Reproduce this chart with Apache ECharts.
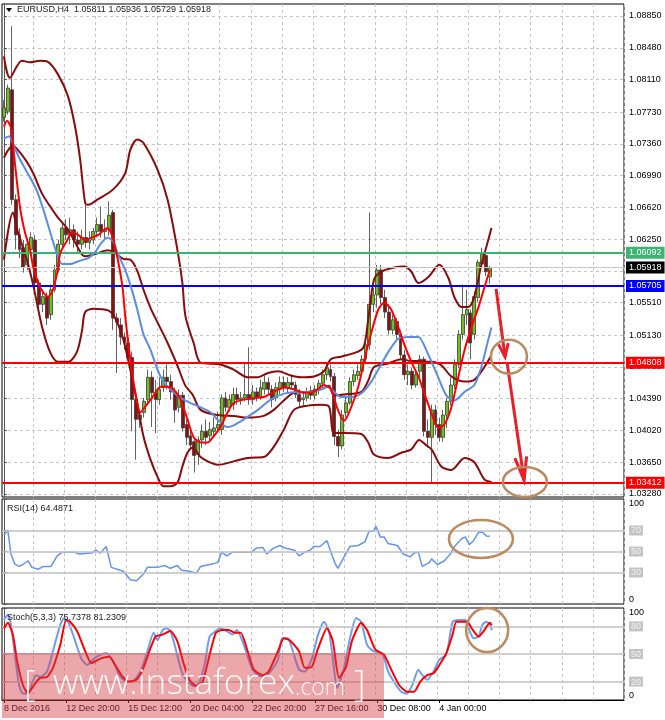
<!DOCTYPE html>
<html>
<head>
<meta charset="utf-8">
<script src="https://cdn.jsdelivr.net/npm/echarts@6.0.0/dist/echarts.min.js"></script>
<style>
html,body{margin:0;padding:0;background:#ffffff;}
#chart{width:665px;height:720px;}
</style>
</head>
<body>
<div id="chart"></div>
<script>
// ---------------- DATA ----------------
const NCAT = 160;
const dateLabels = ['8 Dec 2016','12 Dec 20:00','15 Dec 12:00','20 Dec 04:00','22 Dec 20:00','27 Dec 16:00','30 Dec 08:00','4 Jan 00:00'];
const priceTicks = [1.08850,1.08480,1.08110,1.07730,1.07360,1.06990,1.06620,1.06250,1.05880,1.05510,1.05130,1.04760,1.04390,1.04020,1.03650,1.03280];
const rsiTicks = [0,30,50,70,100];
const stochTicks = [0,20,50,80,100];
const rsiLevels = [70,50,30];
const stochLevels = [80,50,20];
const levelValues = [1.06092,1.05918,1.05705,1.04808,1.03412];
const titleText = 'EURUSD,H4  1.05811 1.05936 1.05729 1.05918';
const rsiTitle = 'RSI(14) 64.4871';
const stochTitle = 'Stoch(5,3,3) 75.7378 81.2309';
const watermarkParts = ['[', 'www.instaforex', '.com', ']'];

// candles: [open, close, low, high]
const candleOHLC = [
[1.0767,1.0778,1.0762,1.0787],[1.0774,1.0801,1.0770,1.0805],[1.0799,1.0671,1.0665,1.0873],[1.0671,1.0630,1.0613,1.0677],
[1.0630,1.0613,1.0603,1.0638],[1.0615,1.0592,1.0586,1.0624],[1.0595,1.0619,1.0589,1.0624],[1.0613,1.0627,1.0607,1.0633],
[1.0624,1.0574,1.0568,1.0630],[1.0574,1.0549,1.0540,1.0578],[1.0549,1.0558,1.0540,1.0566],[1.0558,1.0533,1.0525,1.0563],
[1.0537,1.0566,1.0531,1.0572],[1.0566,1.0589,1.0563,1.0595],[1.0589,1.0619,1.0586,1.0624],[1.0619,1.0638,1.0613,1.0645],
[1.0638,1.0630,1.0624,1.0648],[1.0630,1.0636,1.0619,1.0650],[1.0636,1.0624,1.0615,1.0642],[1.0624,1.0619,1.0609,1.0634],
[1.0619,1.0627,1.0613,1.0636],[1.0627,1.0621,1.0615,1.0665],[1.0621,1.0624,1.0613,1.0634],[1.0624,1.0634,1.0619,1.0638],
[1.0634,1.0642,1.0627,1.0650],[1.0642,1.0634,1.0627,1.0663],[1.0634,1.0636,1.0624,1.0648],[1.0636,1.0653,1.0629,1.0669],
[1.0656,1.0533,1.0519,1.0659],[1.0533,1.0528,1.0469,1.0539],[1.0525,1.0511,1.0502,1.0533],[1.0511,1.0504,1.0496,1.0516],
[1.0504,1.0487,1.0479,1.0510],[1.0487,1.0438,1.0401,1.0494],[1.0438,1.0415,1.0368,1.0444],[1.0415,1.0420,1.0405,1.0426],
[1.0423,1.0436,1.0417,1.0440],[1.0438,1.0464,1.0432,1.0473],[1.0464,1.0446,1.0406,1.0471],[1.0446,1.0438,1.0399,1.0461],
[1.0438,1.0450,1.0432,1.0464],[1.0452,1.0464,1.0447,1.0473],[1.0464,1.0459,1.0450,1.0479],[1.0459,1.0447,1.0438,1.0467],
[1.0447,1.0426,1.0411,1.0452],[1.0429,1.0443,1.0423,1.0450],[1.0443,1.0405,1.0401,1.0447],[1.0409,1.0394,1.0385,1.0415],
[1.0396,1.0385,1.0380,1.0403],[1.0389,1.0373,1.0353,1.0394],[1.0374,1.0391,1.0362,1.0395],[1.0391,1.0401,1.0382,1.0409],
[1.0401,1.0394,1.0385,1.0415],[1.0396,1.0403,1.0391,1.0412],[1.0401,1.0405,1.0394,1.0417],[1.0405,1.0409,1.0401,1.0424],
[1.0403,1.0440,1.0397,1.0444],[1.0440,1.0429,1.0424,1.0447],[1.0429,1.0438,1.0424,1.0444],[1.0432,1.0444,1.0426,1.0452],
[1.0444,1.0438,1.0432,1.0452],[1.0438,1.0440,1.0432,1.0447],[1.0440,1.0444,1.0436,1.0481],[1.0444,1.0438,1.0432,1.0499],
[1.0438,1.0447,1.0432,1.0455],[1.0447,1.0441,1.0436,1.0452],[1.0441,1.0452,1.0438,1.0461],[1.0450,1.0458,1.0444,1.0466],
[1.0458,1.0450,1.0444,1.0464],[1.0450,1.0438,1.0429,1.0455],[1.0440,1.0452,1.0436,1.0458],[1.0450,1.0458,1.0444,1.0465],
[1.0458,1.0452,1.0447,1.0465],[1.0452,1.0458,1.0446,1.0464],[1.0458,1.0455,1.0450,1.0467],[1.0455,1.0444,1.0440,1.0459],
[1.0444,1.0436,1.0430,1.0450],[1.0438,1.0440,1.0431,1.0447],[1.0440,1.0447,1.0436,1.0452],[1.0447,1.0443,1.0438,1.0454],
[1.0443,1.0450,1.0438,1.0455],[1.0450,1.0457,1.0444,1.0461],[1.0457,1.0467,1.0452,1.0473],[1.0467,1.0475,1.0461,1.0482],
[1.0473,1.0465,1.0459,1.0479],[1.0465,1.0395,1.0385,1.0469],[1.0395,1.0384,1.0371,1.0403],[1.0384,1.0420,1.0380,1.0426],
[1.0423,1.0434,1.0417,1.0440],[1.0434,1.0459,1.0432,1.0464],[1.0459,1.0467,1.0454,1.0473],[1.0466,1.0471,1.0461,1.0479],
[1.0471,1.0485,1.0467,1.0490],[1.0485,1.0502,1.0479,1.0508],[1.0502,1.0549,1.0496,1.0656],[1.0549,1.0560,1.0540,1.0568],
[1.0560,1.0589,1.0545,1.0595],[1.0589,1.0557,1.0549,1.0595],[1.0557,1.0540,1.0533,1.0566],[1.0540,1.0519,1.0514,1.0549],
[1.0519,1.0531,1.0514,1.0537],[1.0529,1.0514,1.0508,1.0533],[1.0514,1.0490,1.0485,1.0519],[1.0490,1.0467,1.0461,1.0496],
[1.0467,1.0471,1.0455,1.0479],[1.0471,1.0455,1.0450,1.0475],[1.0455,1.0467,1.0452,1.0473],[1.0471,1.0485,1.0464,1.0490],
[1.0485,1.0401,1.0395,1.0488],[1.0401,1.0394,1.0382,1.0415],[1.0394,1.0426,1.0341,1.0432],[1.0426,1.0409,1.0397,1.0432],
[1.0409,1.0394,1.0389,1.0417],[1.0394,1.0420,1.0389,1.0426],[1.0420,1.0436,1.0405,1.0440],[1.0436,1.0455,1.0431,1.0464],
[1.0455,1.0479,1.0450,1.0485],[1.0479,1.0514,1.0475,1.0519],[1.0514,1.0537,1.0508,1.0572],[1.0537,1.0543,1.0525,1.0566],
[1.0539,1.0504,1.0485,1.0543],[1.0514,1.0558,1.0508,1.0564],[1.0557,1.0598,1.0552,1.0601],[1.0596,1.0607,1.0592,1.0615],
[1.0606,1.0587,1.0582,1.0613],[1.05811,1.05918,1.05729,1.05936]
];

// Bollinger bands [barIndex, price]
const bbUpper = [[0,1.0838],[1.5,1.0813],[4.6,1.0833],[6.7,1.0831],[9.3,1.0833],[11.1,1.0832],[13.9,1.0817],[16.5,1.0791],[18.3,1.0756],[19.6,1.0718],[20.9,1.0667],[21.7,1.0665],[24,1.0671],[28.1,1.0683],[31.2,1.0702],[32.5,1.0729],[34.3,1.0741],[35.9,1.0737],[39.5,1.0706],[42.1,1.0671],[44.6,1.0613],[45.9,1.0574],[46.7,1.0535],[48.8,1.0504],[50.6,1.0481],[55.7,1.0479],[59.1,1.0473],[62.7,1.0464],[65.3,1.0464],[67.9,1.0469],[70.5,1.0471],[73.8,1.0466],[76.4,1.0464],[79.7,1.0465],[82.3,1.0471],[84.1,1.0485],[86.7,1.0488],[91.1,1.0494],[92.6,1.0500],[93.7,1.0531],[95.2,1.0578],[97,1.0587],[100.4,1.0592],[103,1.0593],[104.8,1.0587],[106.6,1.0574],[109.2,1.0581],[112,1.0595],[114.3,1.0580],[115.9,1.0557],[117.7,1.0546],[119.5,1.0546],[121,1.0558],[122.8,1.0595],[124.1,1.0616],[125.4,1.0638]];
const bbMiddle = [[0,1.0720],[2.3,1.0734],[4.1,1.0726],[5.9,1.0715],[7.5,1.0702],[9.8,1.0678],[11.9,1.0663],[13.9,1.0650],[16.5,1.0636],[18.8,1.0617],[20.1,1.0607],[20.9,1.0605],[23,1.0607],[26.8,1.0612],[28.6,1.0609],[30.7,1.0602],[32.5,1.0601],[34.3,1.0588],[35.9,1.0566],[37.7,1.0545],[39.5,1.0528],[42.1,1.0504],[44.6,1.0478],[46.7,1.0454],[48.5,1.0444],[50.6,1.0426],[55,1.0420],[59.1,1.0419],[62.7,1.0417],[66.8,1.0419],[69.4,1.0426],[72,1.0437],[74.6,1.0446],[78.2,1.0447],[81.5,1.0450],[83.6,1.0454],[84.9,1.0443],[87.5,1.0444],[91.9,1.0447],[93.7,1.0460],[95.2,1.0476],[98.8,1.0480],[102.2,1.0485],[104.8,1.0483],[106.8,1.0483],[108.6,1.0482],[110,1.0482],[112.5,1.0478],[115.1,1.0465],[118.5,1.0459],[121,1.0461],[123.6,1.0476],[125.4,1.0490]];
const bbLower = [[0,1.0601],[2.3,1.0656],[3.6,1.0633],[5.9,1.0601],[7.5,1.0572],[9.8,1.0523],[11.9,1.0493],[13.9,1.0482],[16.5,1.0482],[18.8,1.0494],[20.1,1.0519],[20.9,1.0540],[23,1.0544],[26.8,1.0542],[28.6,1.0533],[30.7,1.0508],[32.5,1.0473],[34.3,1.0434],[35.9,1.0395],[37.7,1.0368],[39.5,1.0348],[41,1.0337],[42.8,1.0337],[44.6,1.0341],[45.9,1.0360],[47.2,1.0376],[48.5,1.0382],[50.6,1.0371],[52.4,1.0366],[55,1.0362],[59.1,1.0366],[62.7,1.0370],[66.8,1.0371],[69.4,1.0383],[72,1.0403],[74.6,1.0426],[78.2,1.0431],[81.5,1.0432],[83.6,1.0430],[84.9,1.0399],[87.5,1.0399],[91.9,1.0398],[93.7,1.0388],[95.2,1.0374],[98.8,1.0370],[102.2,1.0376],[104.8,1.0380],[106.8,1.0391],[108.6,1.0385],[110,1.0380],[112.5,1.0360],[115.1,1.0356],[118.5,1.0370],[121,1.0365],[123.6,1.0345],[125.4,1.0342]];

// moving averages [barIndex, price]
const maFast = [[0,1.0756],[0.8,1.0763],[1.8,1.0755],[2.8,1.0714],[4.1,1.0663],[5.4,1.0633],[6.7,1.0613],[7.5,1.0593],[8.8,1.0574],[10.1,1.0563],[11.4,1.0558],[12.6,1.0566],[13.7,1.0586],[14.5,1.0609],[16.3,1.0624],[17.5,1.0633],[19.1,1.0630],[20.9,1.0624],[22.7,1.0627],[24.3,1.0630],[26.6,1.0638],[27.9,1.0628],[29.2,1.0603],[30.5,1.0569],[31.2,1.0535],[32.5,1.0485],[33.8,1.0446],[35.1,1.0423],[36.4,1.0430],[38.2,1.0441],[40.3,1.0453],[42.1,1.0453],[43.6,1.0450],[45.4,1.0438],[47.2,1.0415],[48.8,1.0394],[50.6,1.0388],[52.4,1.0388],[53.9,1.0395],[55.7,1.0406],[57.5,1.0423],[59.1,1.0434],[61.7,1.0438],[64.3,1.0440],[66.8,1.0441],[69.4,1.0447],[72,1.0452],[74.6,1.0450],[77.2,1.0446],[79.7,1.0447],[82.3,1.0455],[84.1,1.0450],[85.9,1.0426],[87.5,1.0413],[89.3,1.0429],[91.1,1.0452],[92.6,1.0482],[94.5,1.0516],[96.3,1.0543],[97.8,1.0551],[99.6,1.0543],[101.4,1.0523],[103,1.0502],[104.8,1.0482],[106.6,1.0465],[108.1,1.0446],[109.9,1.0423],[111.7,1.0405],[113.3,1.0409],[115.1,1.0429],[116.9,1.0465],[118.5,1.0496],[120.3,1.0523],[122.1,1.0546],[123.6,1.0569],[125,1.0589]];
const maSlow = [[0,1.0742],[1.3,1.0745],[2.6,1.0733],[4.1,1.0718],[6.7,1.0697],[8.5,1.0681],[10.1,1.0660],[11.9,1.0633],[13.7,1.0607],[15,1.0596],[17,1.0596],[19.6,1.0600],[21.7,1.0603],[23.5,1.0610],[24.8,1.0619],[26.6,1.0627],[28.1,1.0622],[29.2,1.0609],[31.2,1.0589],[32.5,1.0572],[34.3,1.0543],[35.9,1.0514],[37.7,1.0496],[39.5,1.0473],[41,1.0459],[42.8,1.0450],[45.4,1.0440],[48,1.0434],[50.6,1.0429],[53.2,1.0423],[55.7,1.0411],[57.5,1.0406],[59.1,1.0408],[61.7,1.0415],[65.3,1.0426],[68.6,1.0438],[72,1.0445],[75.6,1.0447],[79,1.0447],[81.5,1.0450],[83.4,1.0453],[84.9,1.0447],[86.7,1.0441],[89.3,1.0441],[91.1,1.0443],[92.6,1.0448],[94.5,1.0459],[96.3,1.0473],[98.8,1.0493],[101.4,1.0509],[104,1.0511],[106.6,1.0511],[109.2,1.0490],[111.7,1.0464],[113.8,1.0443],[115.9,1.0437],[118.5,1.0447],[121,1.0455],[122.8,1.0476],[124.6,1.0508],[125.4,1.0522]];

// RSI(14) [barIndex, value]
const rsi14 = [[0,65.7],[1,70.2],[1.8,47.6],[2.8,38.0],[3.9,35.8],[4.9,37.6],[6.2,41.2],[7.2,34.9],[8.8,33.1],[10.1,35.8],[12.1,35.8],[13.7,45.8],[15,49.4],[18.1,49.4],[19.4,47.6],[22.5,48.5],[23.7,51.2],[24.8,48.5],[26.3,54.8],[27.6,34.9],[30.7,31.2],[32.5,23.1],[34.1,22.2],[35.9,28.5],[36.9,34.9],[39.5,34.9],[41.3,36.7],[42.8,34.0],[44.6,36.7],[45.7,32.2],[47.7,31.2],[49.5,29.4],[50.6,35.8],[52.9,37.6],[55,39.4],[56,49.4],[57.3,45.8],[58.8,49.4],[63.7,49.4],[64.8,53.0],[66.6,53.9],[67.6,47.6],[69.2,53.0],[71,55.7],[72.5,53.0],[74.8,51.2],[75.9,45.8],[77.4,49.4],[78.7,51.2],[79.7,54.8],[81.3,54.8],[83.1,60.3],[84.1,49.4],[85.2,38.5],[85.9,34.0],[86.7,39.4],[89,54.8],[91.1,55.7],[92.9,59.4],[93.9,69.3],[95,69.3],[95.7,73.9],[96.8,63.9],[97.8,63.9],[98.8,57.6],[101.2,55.7],[102.7,47.6],[104.5,44.9],[105.5,48.5],[106.6,49.4],[107.6,35.8],[109.4,39.4],[110,43.0],[111.5,37.6],[113.3,41.2],[114.8,47.6],[115.9,54.8],[117.7,62.1],[118.7,63.9],[119.7,56.6],[120.8,60.3],[122.1,68.4],[123.1,68.4],[124.1,64.8],[125,64.5]];

// Stochastic(5,3,3) [barIndex, value]
const stochK = [[0,87],[1,93],[1.8,82],[2.8,49],[3.9,16],[4.9,7],[6.2,7],[7.2,18],[8.3,27],[9.3,25],[11.1,31],[12.6,53],[14.5,82],[15.5,89],[16.5,85],[18.1,67],[19.9,45],[21.4,38],[23.2,45],[24.8,49],[26.3,51],[28.1,42],[29.7,27],[31.5,20],[33,20],[35.1,31],[36.9,53],[38.5,73],[39.5,65],[40.8,76],[41.8,78],[42.8,75],[43.9,60],[45.7,31],[47.2,20],[49,15],[50.1,18],[51.6,38],[52.9,69],[54.5,75],[55.5,78],[57.3,75],[58.8,71],[59.9,76],[61.7,60],[63.7,35],[65.3,27],[67.1,25],[68.6,31],[70.5,44],[71.5,67],[73,67],[74.1,56],[75.9,33],[77.4,31],[79.2,45],[80.8,71],[82.3,85],[83.6,75],[84.6,45],[85.7,13],[87.5,35],[89,67],[90.6,89],[91.9,85],[93.4,60],[95,53],[97.3,51],[98.8,31],[100.6,18],[102.2,9],[103.7,7],[105,16],[106.6,33],[107.6,27],[108.9,22],[110.5,31],[112,44],[113.8,49],[115.4,85],[116.9,87],[118.7,87],[119.7,76],[120.8,67],[122.1,69],[123.1,82],[124.1,85],[125,82],[125.5,75.7]];
const stochD = [[0,78],[1,84],[2.3,71],[3.4,42],[4.9,16],[6.2,7],[7.7,16],[9.3,24],[11.1,25],[12.6,35],[14.5,60],[16,87],[17,85],[18.8,75],[20.9,53],[22.5,40],[24.8,45],[27.1,47],[28.6,38],[30.2,27],[32,20],[34.1,22],[35.9,35],[37.4,53],[39,69],[40.8,71],[42.8,75],[44.6,64],[46.2,40],[47.7,22],[49.5,15],[51.1,20],[52.9,49],[54.5,73],[56,76],[57.8,76],[59.4,73],[60.9,73],[62.7,53],[64.3,33],[66.6,27],[68.1,31],[70.5,53],[72,67],[73.5,65],[75.9,53],[77.4,35],[79.2,36],[80.8,56],[83.1,78],[84.6,64],[86.2,24],[88,36],[89.5,64],[91.9,84],[93.4,76],[95.5,55],[97.8,49],[99.4,35],[101.7,16],[103.7,9],[105.5,9],[107.1,20],[108.9,27],[110.5,29],[112,38],[113.8,51],[115.4,71],[116.4,85],[119.2,85],[120.3,78],[122.1,69],[123.6,76],[125,84],[125.5,81.2]];

// annotations in data coordinates
const arrowPoints = [ [[126.6,1.0567],[128.9,1.0488]], [[129.4,1.0482],[133.8,1.0344]] ];
const circleMain = [[129.9,1.0488],[134,1.0342]];
const circleRsi = [122.7,62];
const circleStoch = [124.3,76];

// ---------------- STYLE / LAYOUT ----------------
const FONT = '"Liberation Sans", Arial, sans-serif';
const GL = 2, GR = 41;
const PRICE_MIN = 1.03245, PRICE_MAX = 1.08990;
const levelColors = ['#3cb371','#000000','#0000ff','#ff0000','#ff0000'];
const levelLineColors = ['#3cb371','#c8c8c8','#0000ff','#ff0000','#ff0000'];
const levelLineWidths = [2,1,2,2,2];
const BAND = '#8b0a0a', RED = '#ff0000', BLUE = '#5a8de6', BROWN = '#bb8a5e', ARROW = '#e8202a';
const GRIDC = '#c6c6c6';

const chart = echarts.init(document.getElementById('chart'));
const cats = [];
for (let i = 0; i < NCAT; i++) cats.push(String(i));

function catAxis(gridIndex, withLabels) {
  const lblInt = (i) => i % 16 === 0 && i / 16 < dateLabels.length;
  return {
    type: 'category', gridIndex: gridIndex, data: cats, boundaryGap: true,
    axisLine: {show: withLabels, lineStyle: {color: '#000'}},
    axisTick: withLabels ? {show: true, interval: lblInt, alignWithLabel: true, length: 3, lineStyle: {color: '#000'}} : {show: false},
    axisLabel: withLabels ? {show: true, interval: lblInt, formatter: (v, idx) => dateLabels[Math.round(idx / 16)] || '', align: 'left', fontSize: 9, color: '#000', fontFamily: FONT, margin: 4} : {show: false},
    splitLine: {show: true, interval: (i) => i > 0 && i % 8 === 0, lineStyle: {color: GRIDC, type: [3, 3], width: 1}}
  };
}
function valAxis(gridIndex) {
  return {type: 'value', gridIndex: gridIndex, min: -0.5, max: NCAT - 0.5, show: false};
}
const levelFmt = (v) => (v === 0 || v === 100) ? '{b|' + v + '}' : '{g|' + v + '}';
const levelRich = {
  b: {color: '#000', fontSize: 9, fontFamily: FONT},
  g: {color: '#f2f2f2', fontSize: 9, fontFamily: FONT, backgroundColor: '#c4c4c4', padding: [1, 2, 0, 2]}
};
function oscAxis(gridIndex, ticks) {
  return {
    type: 'value', gridIndex: gridIndex, position: 'right', min: 0, max: 100,
    axisLine: {show: true, lineStyle: {color: '#555'}},
    axisTick: {show: true, customValues: ticks, length: 3, lineStyle: {color: '#555'}},
    axisLabel: {customValues: ticks, formatter: levelFmt, rich: levelRich, margin: 5,
      verticalAlignMaxLabel: 'top', verticalAlignMinLabel: 'bottom'},
    splitLine: {show: false}
  };
}
function lineSeries(data, xi, yi, color, width, smooth, z) {
  return {type: 'line', data: data, xAxisIndex: xi, yAxisIndex: yi, showSymbol: false, symbol: 'none',
    smooth: smooth, lineStyle: {color: color, width: width}, z: z, silent: true};
}
function levelMark(levels) {
  return {silent: true, symbol: ['none', 'none'], label: {show: false},
    lineStyle: {color: '#c0c0c0', width: 1.5, type: 'solid'},
    data: levels.map(v => ({yAxis: v}))};
}

const option = {
  animation: false,
  backgroundColor: '#ffffff',
  grid: [
    {left: GL, right: GR, top: 4, height: 493, show: true, borderColor: '#000', borderWidth: 1, backgroundColor: 'transparent', outerBoundsMode: 'none'},
    {left: GL, right: GR, top: 499, height: 105, show: true, borderColor: '#000', borderWidth: 1, outerBoundsMode: 'none'},
    {left: GL, right: GR, top: 608, height: 92, show: true, borderColor: '#000', borderWidth: 1, outerBoundsMode: 'none'}
  ],
  xAxis: [catAxis(0, false), valAxis(0), catAxis(1, false), valAxis(1), catAxis(2, true), valAxis(2)],
  yAxis: [
    {type: 'value', gridIndex: 0, position: 'right', min: PRICE_MIN, max: PRICE_MAX,
      axisLine: {show: true, lineStyle: {color: '#555'}},
      axisTick: {show: true, customValues: priceTicks, length: 3, lineStyle: {color: '#555'}},
      axisLabel: {customValues: priceTicks, formatter: (v) => v.toFixed(5), fontSize: 9, color: '#000', fontFamily: FONT, margin: 5},
      splitLine: {show: true, lineStyle: {color: GRIDC, type: [3, 3], width: 1}}},
    oscAxis(1, rsiTicks),
    oscAxis(2, stochTicks)
  ],
  series: [
    {type: 'candlestick', xAxisIndex: 0, yAxisIndex: 0, data: candleOHLC, barWidth: 3.4, z: 2,
      itemStyle: {color: '#6cc21a', color0: '#8b0f0f', borderColor: '#3c3c3c', borderColor0: '#3c3c3c', borderWidth: 0.8},
      markLine: {silent: true, symbol: ['none', 'none'], precision: 5,
        label: {show: true, position: 'end', formatter: (p) => Number(p.value).toFixed(5), color: '#fff', fontSize: 9, fontFamily: FONT, padding: [2, 3, 1, 3], distance: 2},
        data: levelValues.map((v, k) => ({yAxis: v,
          lineStyle: {color: levelLineColors[k], width: levelLineWidths[k], type: 'solid'},
          label: {backgroundColor: levelColors[k]}}))}},
    lineSeries(bbUpper, 1, 0, BAND, 2, 0.3, 4),
    lineSeries(bbMiddle, 1, 0, BAND, 2, 0.3, 4),
    lineSeries(bbLower, 1, 0, BAND, 2, 0.3, 4),
    lineSeries(maSlow, 1, 0, BLUE, 2, 0.25, 5),
    lineSeries(maFast, 1, 0, RED, 2, 0.25, 6),
    Object.assign(lineSeries(rsi14, 3, 1, '#6495ed', 1.5, false, 4), {markLine: levelMark(rsiLevels)}),
    Object.assign(lineSeries(stochK, 5, 2, '#6f9ded', 2, 0.2, 4), {markLine: levelMark(stochLevels)}),
    lineSeries(stochD, 5, 2, RED, 2, 0.2, 5)
  ]
};
chart.setOption(option);

// ---------------- ANNOTATIONS ----------------
const toPx = (xi, yi, pt) => chart.convertToPixel({xAxisIndex: xi, yAxisIndex: yi}, pt);
function arrowEls(p0, p1, len, ang) {
  const a = Math.atan2(p1[1] - p0[1], p1[0] - p0[0]);
  const b1 = [p1[0] - len * Math.cos(a - ang), p1[1] - len * Math.sin(a - ang)];
  const b2 = [p1[0] - len * Math.cos(a + ang), p1[1] - len * Math.sin(a + ang)];
  return [
    {type: 'line', z: 50, shape: {x1: p0[0], y1: p0[1], x2: p1[0], y2: p1[1]}, style: {stroke: ARROW, lineWidth: 3}},
    {type: 'polyline', z: 50, shape: {points: [b1, p1, b2]}, style: {stroke: ARROW, lineWidth: 3, fill: null}}
  ];
}
const g = [];
g.push({type: 'polygon', z: 50, shape: {points: [[6, 8], [12, 8], [9, 12]]}, style: {fill: '#000'}});
g.push({type: 'text', z: 50, x: 17, y: 10, style: {text: titleText, font: '9px ' + FONT, fill: '#222', verticalAlign: 'middle'}});
g.push({type: 'text', z: 50, x: 7, y: 509, style: {text: rsiTitle, font: '9px ' + FONT, fill: '#222', verticalAlign: 'middle'}});
g.push({type: 'text', z: 50, x: 7, y: 618, style: {text: stochTitle, font: '9px ' + FONT, fill: '#222', verticalAlign: 'middle'}});
const a1 = arrowPoints[0].map(p => toPx(1, 0, p));
const a2 = arrowPoints[1].map(p => toPx(1, 0, p));
arrowEls(a1[0], a1[1], 14, 0.36).forEach(e => g.push(e));
arrowEls(a2[0], a2[1], 24, 0.25).forEach(e => g.push(e));
const cm = circleMain.map(p => toPx(1, 0, p));
const radii = [[18, 17], [22, 15]];
cm.forEach((c, k) => g.push({type: 'ellipse', z: 51, shape: {cx: c[0], cy: c[1], rx: radii[k][0], ry: radii[k][1]}, style: {fill: null, stroke: BROWN, lineWidth: 2.5}}));
const cr = toPx(3, 1, circleRsi);
g.push({type: 'ellipse', z: 51, shape: {cx: cr[0], cy: cr[1], rx: 32, ry: 19}, style: {fill: null, stroke: BROWN, lineWidth: 2.5}});
const cs = toPx(5, 2, circleStoch);
g.push({type: 'ellipse', z: 51, shape: {cx: cs[0], cy: cs[1], rx: 21, ry: 22}, style: {fill: null, stroke: BROWN, lineWidth: 2.5}});

// watermark: fit text widths with canvas measurement
const mctx = document.createElement('canvas').getContext('2d');
function fitSize(text, weight, family, target) {
  mctx.font = weight + ' 100px ' + family;
  return 100 * target / mctx.measureText(text).width;
}
const WM_FAM = '"Open Sans", sans-serif';
const mainSize = fitSize(watermarkParts[1], 300, WM_FAM, 242);
const comSize = fitSize(watermarkParts[2], 300, WM_FAM, 50);
const WM_FILL = 'rgba(255,255,255,0.92)';
const BASE = 695;
g.push({type: 'rect', z: 60, shape: {x: 2, y: 653, width: 382, height: 65}, style: {fill: 'rgba(212,60,68,0.45)'}});
g.push({type: 'text', z: 61, x: 24, y: 686, style: {text: watermarkParts[0], font: '300 36px ' + WM_FAM, fill: WM_FILL, verticalAlign: 'middle'}});
g.push({type: 'text', z: 61, x: 53, y: BASE - 0.3 * mainSize, style: {text: watermarkParts[1], font: '300 ' + mainSize.toFixed(1) + 'px ' + WM_FAM, fill: WM_FILL, verticalAlign: 'middle'}});
g.push({type: 'text', z: 61, x: 295, y: BASE - 0.3 * comSize, style: {text: watermarkParts[2], font: '300 ' + comSize.toFixed(1) + 'px ' + WM_FAM, fill: WM_FILL, verticalAlign: 'middle'}});
g.push({type: 'text', z: 61, x: 354, y: 686, style: {text: watermarkParts[3], font: '300 36px ' + WM_FAM, fill: WM_FILL, verticalAlign: 'middle'}});
chart.setOption({graphic: g});
</script>
</body>
</html>
